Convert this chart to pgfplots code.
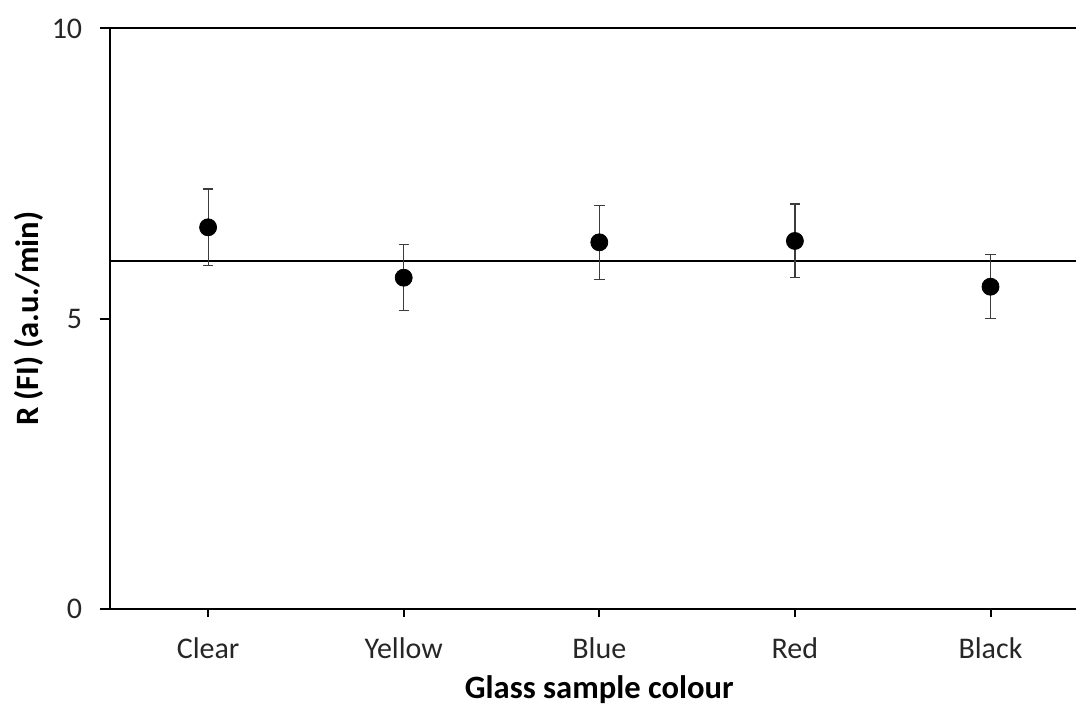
\documentclass[border=0pt]{standalone}
\usepackage{fontspec}
\setmainfont{Carlito}
\usepackage{pgfplots}
\pgfplotsset{compat=1.18}
\definecolor{cBar}{RGB}{60,60,60}

\begin{document}
\begin{tikzpicture}
\begin{axis}[
  scale only axis,
  width=489pt, height=290.25pt,
  xmin=0.5, xmax=5.5,
  ymin=0, ymax=10,
  axis line style={black, line width=1pt},
  tick pos=left,
  tick align=outside,
  xtick={1,2,3,4,5},
  xticklabels={Clear, Yellow, Blue, Red, Black},
  ytick={0,5,10},
  xtick style={black, line width=1pt, /pgfplots/major tick length=3.8pt},
  ytick style={black, line width=1pt, /pgfplots/major tick length=5pt},
  /pgf/number format/assume math mode=true,
  tick label style={font=\fontsize{15}{17}\selectfont, color=black!85},
  xticklabel style={anchor=base, inner sep=0pt, yshift=-20.5pt},
  yticklabel style={anchor=east, inner sep=0pt, xshift=-9.6pt},
  xlabel={Glass sample colour},
  ylabel={R (FI) (a.u./min)},
  label style={font=\bfseries\fontsize{16.3}{18}\selectfont},
  xlabel style={at={(axis description cs:0.5,0)}, anchor=base, yshift=-44.8pt},
  ylabel style={at={(axis description cs:-0.0836,0.5)}, anchor=center},
  clip=false,
]
% reference level
\addplot[black, line width=1pt] coordinates {(0.5,6) (5.5,6)};
% mean rates with error bars
\addplot[
  only marks, mark=*, mark size=4.25pt,
  mark options={fill=black, draw=black},
  error bars/.cd, y dir=both, y explicit,
  error bar style={cBar, line width=0.6pt},
  error mark options={rotate=90, mark size=2.6pt, cBar, line width=0.6pt},
] coordinates {
  (1,6.575) +- (0,0.66)
  (2,5.707) +- (0,0.57)
  (3,6.317) +- (0,0.635)
  (4,6.340) +- (0,0.635)
  (5,5.552) +- (0,0.55)
};
\end{axis}
\pgfresetboundingbox
\path (-55.15pt,-49pt) rectangle (482.85pt,304.5pt);
\end{tikzpicture}
\end{document}
